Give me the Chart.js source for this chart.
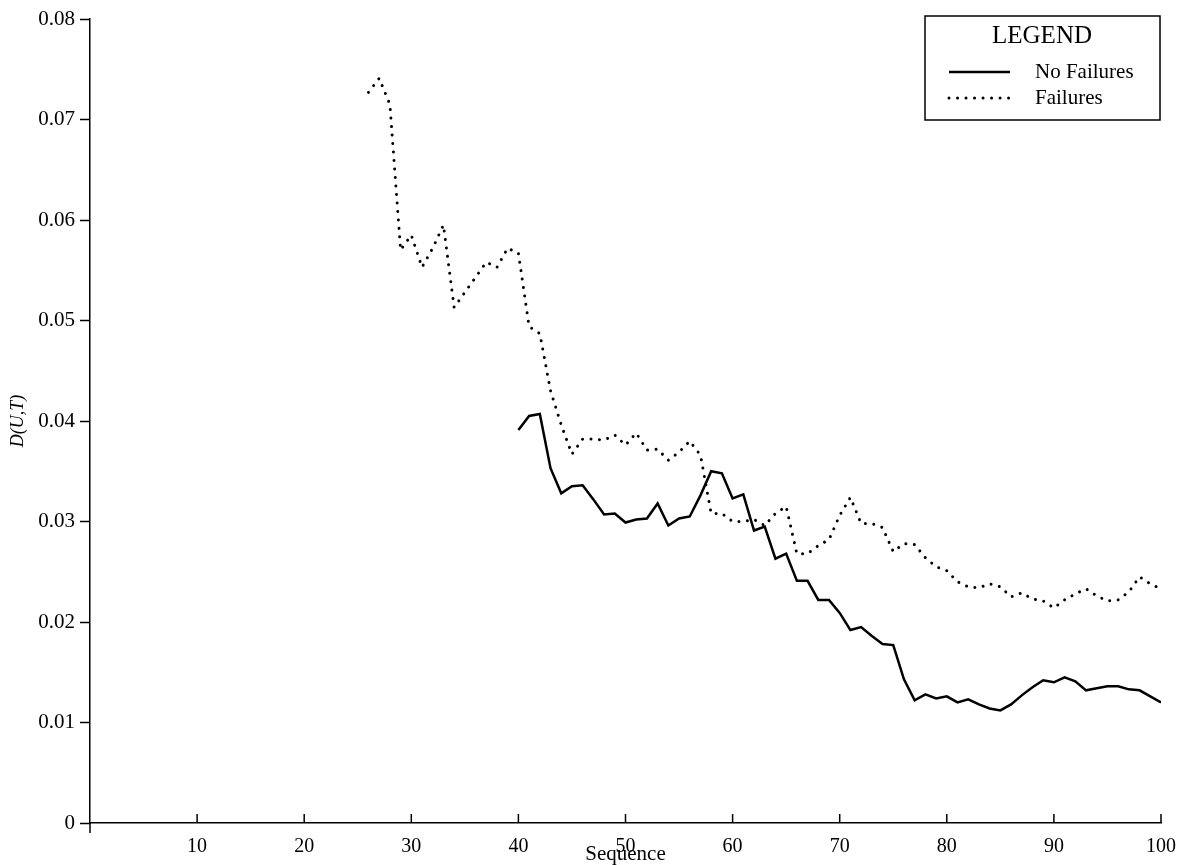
<!DOCTYPE html>
<html>
<head>
    <title>D(U,T) by sequence</title>
    <script src="https://cdn.jsdelivr.net/npm/chart.js"></script>
    <style>
        body { margin: 0; background: #fff; }
    </style>
</head>
<body>
    <canvas id="myChart" width="1183" height="865"></canvas>
    <script>
        // sequence numbers start here, one value per step
        var noFailStart = 40;
        var failStart = 26;

        var noFailures = [
            0.0391, 0.0405, 0.0407, 0.0353, 0.0328, 0.0335, 0.0336, 0.0322, 0.0307, 0.0308,
            0.0299, 0.0302, 0.0303, 0.0318, 0.0296, 0.0303, 0.0305, 0.0326, 0.0350, 0.0348,
            0.0323, 0.0327, 0.0291, 0.0295, 0.0263, 0.0268, 0.0241, 0.0241, 0.0222, 0.0222,
            0.0209, 0.0192, 0.0195, 0.0186, 0.0178, 0.0177, 0.0143, 0.0122, 0.0128, 0.0124,
            0.0126, 0.0120, 0.0123, 0.0118, 0.0114, 0.0112, 0.0118, 0.0127, 0.0135, 0.0142,
            0.0140, 0.0145, 0.0141, 0.0132, 0.0134, 0.0136, 0.0136, 0.0133, 0.0132, 0.0126,
            0.0120
        ];

        var failures = [
            0.0727, 0.0741, 0.0715, 0.0570, 0.0585, 0.0553, 0.0572, 0.0595, 0.0513, 0.0528,
            0.0543, 0.0558, 0.0553, 0.0572, 0.0567, 0.0494, 0.0487, 0.0430, 0.0396, 0.0367,
            0.0382, 0.0382, 0.0381, 0.0386, 0.0376, 0.0388, 0.0371, 0.0372, 0.0361, 0.0369,
            0.0380, 0.0366, 0.0308, 0.0308, 0.0300, 0.0300, 0.0302, 0.0296, 0.0308, 0.0315,
            0.0268, 0.0268, 0.0276, 0.0282, 0.0306, 0.0324, 0.0298, 0.0298, 0.0294, 0.0270,
            0.0278, 0.0277, 0.0264, 0.0255, 0.0251, 0.0240, 0.0235, 0.0234, 0.0238, 0.0235,
            0.0225, 0.0229, 0.0223, 0.0221, 0.0214, 0.0222, 0.0228, 0.0233, 0.0226, 0.0221,
            0.0222, 0.0230, 0.0245, 0.0238, 0.0233
        ];

        var xTicks = [10, 20, 30, 40, 50, 60, 70, 80, 90, 100];
        var yTickLabels = ['0', '0.01', '0.02', '0.03', '0.04', '0.05', '0.06', '0.07', '0.08'];

        var serif = "'Liberation Serif', 'Times New Roman', serif";

        function toPoints(start, values) {
            return values.map(function (v, i) { return { x: start + i, y: v }; });
        }

        // x ticks point up into the plot, and the y axis runs a bit below 0
        var axisMarks = {
            id: 'axisMarks',
            afterDraw: function (chart) {
                var c = chart.ctx, xs = chart.scales.x, a = chart.chartArea;
                c.save();
                c.strokeStyle = '#000';
                c.lineWidth = 1.5;
                c.beginPath();
                xTicks.forEach(function (t) {
                    var px = xs.getPixelForValue(t);
                    c.moveTo(px, a.bottom);
                    c.lineTo(px, a.bottom - 9);
                });
                c.moveTo(a.left, a.bottom);
                c.lineTo(a.left, a.bottom + 10);
                c.stroke();
                c.restore();
            }
        };

        var boxLegend = {
            id: 'boxLegend',
            afterDraw: function (chart) {
                var c = chart.ctx;
                var left = 925, top = 16, w = 235, h = 104;
                c.save();
                c.strokeStyle = '#000';
                c.lineWidth = 1.5;
                c.strokeRect(left, top, w, h);
                c.fillStyle = '#000';
                c.textBaseline = 'middle';
                c.textAlign = 'center';
                c.font = '25px ' + serif;
                c.fillText('LEGEND', left + 117, top + 20);
                c.textAlign = 'left';
                c.font = '21px ' + serif;
                chart.data.datasets.forEach(function (ds, i) {
                    var y = top + 56 + i * 26;
                    c.beginPath();
                    c.lineWidth = ds.borderWidth;
                    c.lineCap = ds.borderCapStyle || 'butt';
                    c.setLineDash(ds.borderDash || []);
                    c.moveTo(949, y);
                    c.lineTo(1010, y);
                    c.stroke();
                    c.setLineDash([]);
                    c.fillText(ds.label, 1035, y);
                });
                c.restore();
            }
        };

        var ctx = document.getElementById('myChart').getContext('2d');
        var myChart = new Chart(ctx, {
            type: 'line',
            data: {
                datasets: [{
                    label: 'No Failures',
                    data: toPoints(noFailStart, noFailures),
                    borderColor: '#000',
                    borderWidth: 2.5,
                    pointRadius: 0,
                    tension: 0,
                    fill: false
                }, {
                    label: 'Failures',
                    data: toPoints(failStart, failures),
                    borderColor: '#000',
                    borderWidth: 3,
                    borderDash: [0.01, 8.5],
                    borderCapStyle: 'round',
                    pointRadius: 0,
                    tension: 0,
                    fill: false
                }]
            },
            options: {
                responsive: false,
                animation: false,
                layout: { padding: { top: 19, right: 22, left: 0, bottom: 0 } },
                plugins: {
                    legend: { display: false },
                    tooltip: { enabled: false }
                },
                scales: {
                    x: {
                        type: 'linear',
                        min: 0,
                        max: 100,
                        afterFit: function (s) {
                            s.height = 42;
                            s.paddingLeft = 0;
                            s.paddingRight = 0;
                        },
                        afterBuildTicks: function (s) {
                            s.ticks = [0].concat(xTicks).map(function (v) { return { value: v }; });
                        },
                        ticks: {
                            color: '#000',
                            font: { family: serif, size: 20 },
                            padding: 12,
                            maxRotation: 0,
                            autoSkip: false,
                            callback: function (v) { return v === 0 ? '' : String(v); }
                        },
                        grid: { drawOnChartArea: false, drawTicks: false },
                        border: { display: true, color: '#000', width: 1.5 },
                        title: {
                            display: true,
                            text: 'Sequence',
                            color: '#000',
                            font: { family: serif, size: 21, lineHeight: 1.0 },
                            padding: { top: 0, bottom: 0 }
                        }
                    },
                    y: {
                        min: 0,
                        max: 0.08,
                        afterFit: function (s) { s.width = 90; },
                        ticks: {
                            stepSize: 0.01,
                            color: '#000',
                            font: { family: serif, size: 21 },
                            padding: 5,
                            callback: function (v, i) { return yTickLabels[i]; }
                        },
                        grid: {
                            drawOnChartArea: false,
                            drawTicks: true,
                            tickLength: 10,
                            tickWidth: 1.5,
                            tickColor: '#000'
                        },
                        border: { display: true, color: '#000', width: 1.5 },
                        title: {
                            display: true,
                            text: 'D(U,T)',
                            color: '#000',
                            font: { family: serif, size: 18, style: 'italic' },
                            padding: { top: 7, bottom: 0 }
                        }
                    }
                }
            },
            plugins: [axisMarks, boxLegend]
        });
    </script>
</body>
</html>
